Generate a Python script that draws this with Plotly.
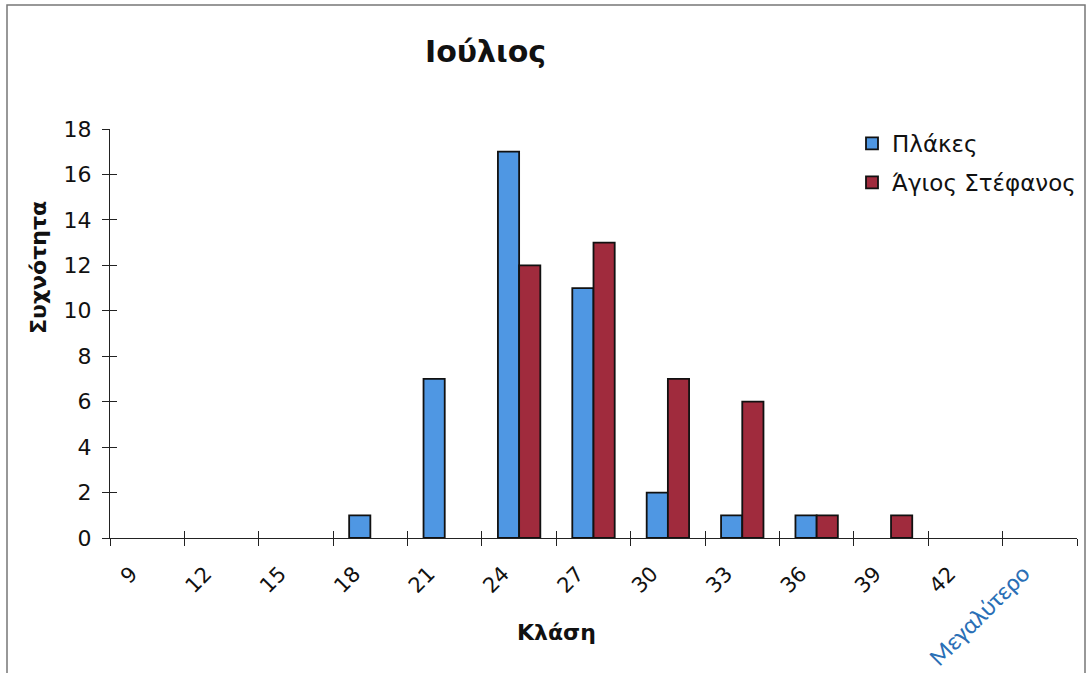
import plotly.graph_objects as go

# Histogram classes (upper bounds) and frequencies for July
classes = ["9", "12", "15", "18", "21", "24", "27", "30", "33", "36", "39", "42", "Μεγαλύτερο"]
plakes = [0, 0, 0, 1, 7, 17, 11, 2, 1, 1, 0, 0, 0]
agios_stefanos = [0, 0, 0, 0, 0, 12, 13, 7, 6, 1, 1, 0, 0]

tick_text = classes[:-1] + [
    '<span style="color:#2a6fb6;font-family:Carlito, Lato;font-size:25px">'
    + classes[-1] + '</span>'
]

W, H = 1088, 673
ML, MR, MT, MB = 110, 11, 129, 135
PW, PH = W - ML - MR, H - MT - MB


def px_x(x):
    return (x - ML) / PW


def px_y(y):
    return (H - MB - y) / PH


def nonzero(values):
    # empty classes are left blank so no flat outline sits on the axis
    return [v if v > 0 else None for v in values]


fig = go.Figure()
fig.add_trace(go.Bar(
    x=classes, y=nonzero(plakes), name="Πλάκες",
    marker=dict(color="#4f97e3", line=dict(color="#111111", width=1.8)),
    legendgroup="a",
))
fig.add_trace(go.Bar(
    x=classes, y=nonzero(agios_stefanos), name="Άγιος Στέφανος",
    marker=dict(color="#a02b3d", line=dict(color="#111111", width=1.8)),
    legendgroup="b",
))
# helper trace so the overlay axes (inner half of the cross ticks) are drawn
n = len(classes)
fig.add_trace(go.Scatter(x=[0], y=[0], xaxis="x2", yaxis="y2", mode="markers",
                         marker=dict(opacity=0), showlegend=False, hoverinfo="skip"))

font_main = "DejaVu Sans, Arial, sans-serif"

fig.update_layout(
    width=W, height=H,
    margin=dict(l=ML, r=MR, t=MT, b=MB, autoexpand=False),
    paper_bgcolor="white", plot_bgcolor="white",
    barmode="group", bargap=0.43, bargroupgap=0,
    showlegend=True,
    legend=dict(
        x=px_x(852), y=px_y(122), xanchor="left", yanchor="top",
        font=dict(family=font_main, size=23, color="#111111"),
        bgcolor="rgba(0,0,0,0)", tracegroupgap=6,
        itemwidth=30,
    ),
    xaxis=dict(
        type="category", categoryorder="array", categoryarray=classes,
        tickvals=classes, ticktext=tick_text,
        range=[-0.5, n - 0.5], automargin=False,
        showline=True, linecolor="#222222", linewidth=1.3,
        ticks="outside", tickson="boundaries", ticklen=7, tickcolor="#222222", tickwidth=1.3,
        tickangle=-45, ticklabelshift=-16, ticklabelstandoff=14,
        tickfont=dict(family=font_main, size=21, color="#111111"),
        showgrid=False, zeroline=False,
    ),
    yaxis=dict(
        range=[0, 18], dtick=2, automargin=False,
        showline=True, linecolor="#222222", linewidth=1.3,
        ticks="outside", ticklen=7, tickcolor="#222222", tickwidth=1.3,
        tickfont=dict(family=font_main, size=22, color="#111111"),
        ticklabelstandoff=6,
        showgrid=False, zeroline=False,
    ),
    xaxis2=dict(
        overlaying="x", range=[-0.5, n - 0.5], automargin=False,
        tickvals=[i - 0.5 for i in range(n + 1)],
        ticks="inside", ticklen=7, tickcolor="#222222", tickwidth=1.3,
        showticklabels=False, showgrid=False, zeroline=False, showline=False,
    ),
    yaxis2=dict(
        overlaying="y", range=[0, 18], dtick=2, automargin=False,
        ticks="inside", ticklen=7, tickcolor="#222222", tickwidth=1.3,
        showticklabels=False, showgrid=False, zeroline=False, showline=False,
    ),
    shapes=[dict(
        type="rect", xref="paper", yref="paper",
        x0=px_x(7), x1=px_x(1085), y0=px_y(690), y1=px_y(5),
        line=dict(color="#777777", width=1.5), fillcolor="rgba(0,0,0,0)", layer="below",
    )],
    annotations=[
        dict(text="<b>Ιούλιος</b>", xref="paper", yref="paper",
             x=px_x(485), y=px_y(52), xanchor="center", yanchor="middle",
             showarrow=False, font=dict(family=font_main, size=30, color="#111111")),
        dict(text="<b>Συχνότητα</b>", xref="paper", yref="paper",
             x=px_x(38), y=px_y(268), xanchor="center", yanchor="middle", textangle=-90,
             showarrow=False, font=dict(family=font_main, size=22, color="#111111")),
        dict(text="<b>Κλάση</b>", xref="paper", yref="paper",
             x=px_x(556), y=px_y(632), xanchor="center", yanchor="middle",
             showarrow=False, font=dict(family=font_main, size=22, color="#111111")),
    ],
)

fig.write_html("out.html")
